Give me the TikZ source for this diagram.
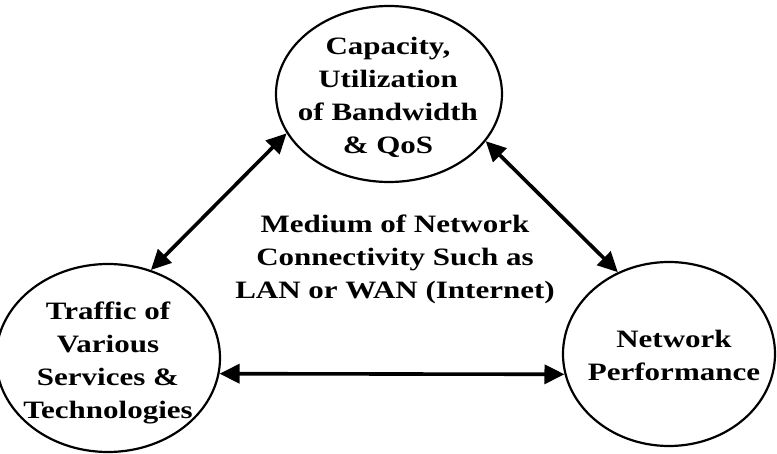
\documentclass[tikz,border=0pt]{standalone}
\usepackage{fontspec}
\setmainfont{Liberation Serif}[FakeStretch=1.24]
\usetikzlibrary{shapes.geometric,arrows.meta}
\begin{document}
\begin{tikzpicture}[x=1pt,y=1pt,
  topic/.style={ellipse,draw,line width=2.2pt,inner sep=0pt},
  caption/.style={align=center,font=\bfseries\fontsize{25}{33}\selectfont,inner sep=0pt},
  link/.style={line width=3.6pt,{Triangle[length=20pt,width=19pt]}-{Triangle[length=20pt,width=19pt]}}]
\useasboundingbox (0,0) rectangle (777,453);
% the three topics
\node[topic,minimum width=226pt,minimum height=176pt] (cap) at (389,359) {};
\node[topic,minimum width=224pt,minimum height=188pt] (traffic) at (108,95) {};
\node[topic,minimum width=212pt,minimum height=184pt] (perf) at (669,99) {};
% their texts
\node[caption] (captext) at (388,356) {Capacity,\\Utilization\\of Bandwidth\\\& QoS};
\node[caption] (traffictext) at (108,90) {Traffic of\\Various\\Services \&\\Technologies};
\node[caption] (perftext) at (674,98) {Network\\Performance};
\node[caption] (medium) at (395,194) {Medium of Network\\Connectivity Such as\\LAN or WAN (Internet)};
% two-way links
\draw[link] (traffic.64.5) -- (cap.201);
\draw[link] (cap.-26.4) -- (perf.122.4);
\draw[link] (traffic.-8.3) -- (perf.191);
\end{tikzpicture}
\end{document}
